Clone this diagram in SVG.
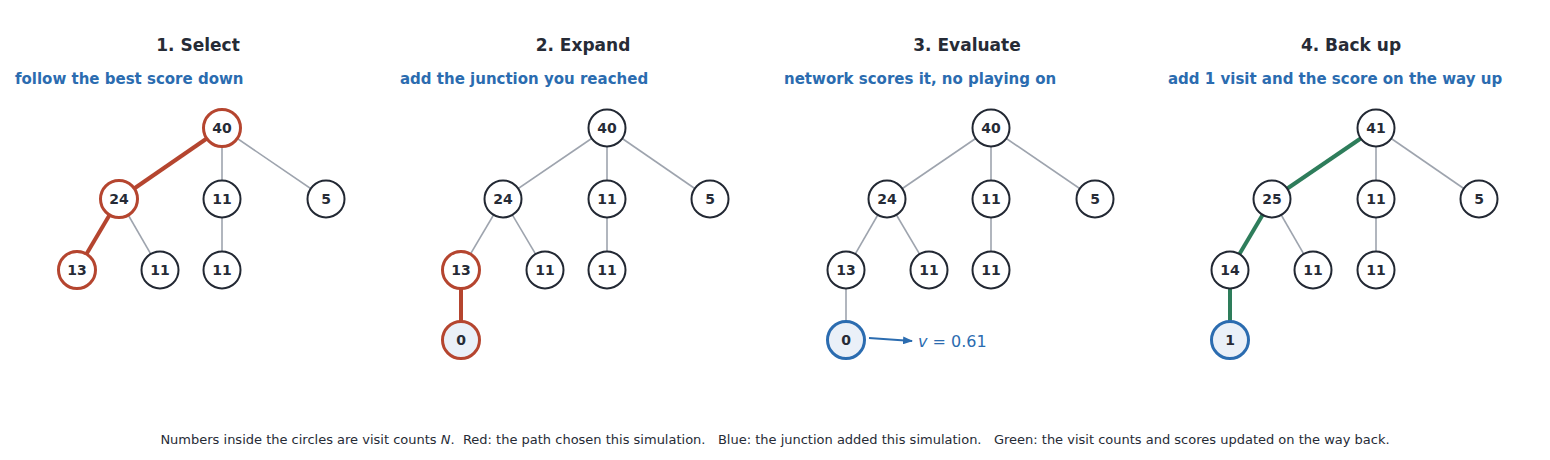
<svg xmlns="http://www.w3.org/2000/svg" width="1550" height="460" viewBox="0 0 1550 460">
<defs>
<marker id="ah" markerWidth="10" markerHeight="8" refX="9" refY="4" orient="auto" markerUnits="userSpaceOnUse"><path d="M0,0 L10,4 L0,8 z" fill="#2b6cb0"/></marker>
<style>
text{font-family:"DejaVu Sans","Liberation Sans",sans-serif}
.t{font-size:17px;font-weight:bold;fill:#262b36;text-anchor:middle}
.s{font-size:15px;font-weight:bold;fill:#2b6cb0}
.n circle{fill:#fff;stroke:#222833;stroke-width:2}
.n.r circle{stroke:#b5452f;stroke-width:3}
.n.b circle{fill:#eaf0f8;stroke:#2b6cb0;stroke-width:3}
.n.bb circle{fill:#eaf0f8;stroke:#b5452f;stroke-width:3}
.n.g circle{fill:#eaf0f8;stroke:#2b6cb0;stroke-width:3}
.n text{font-size:14px;font-weight:bold;fill:#262b36;text-anchor:middle;dominant-baseline:central}
.e{stroke:#9ea4ae;stroke-width:1.6}
.er{stroke:#b5452f;stroke-width:4}
.eg{stroke:#2e7d5b;stroke-width:4}
</style>
</defs>
<text class="t" x="198" y="51">1. Select</text>
<text class="s" x="15" y="84">follow the best score down</text>
<text class="t" x="583" y="51">2. Expand</text>
<text class="s" x="400" y="84">add the junction you reached</text>
<text class="t" x="967" y="51">3. Evaluate</text>
<text class="s" x="784" y="84">network scores it, no playing on</text>
<text class="t" x="1351" y="51">4. Back up</text>
<text class="s" x="1168" y="84">add 1 visit and the score on the way up</text>
<g id="connectors">
<line class="er" x1="222" y1="128" x2="119" y2="199"/><line class="e" x1="222" y1="128" x2="222" y2="199"/><line class="e" x1="222" y1="128" x2="326" y2="199"/>
<line class="er" x1="119" y1="199" x2="77" y2="270"/><line class="e" x1="119" y1="199" x2="160" y2="270"/><line class="e" x1="222" y1="199" x2="222" y2="270"/>
<line class="e" x1="607" y1="128" x2="503" y2="199"/><line class="e" x1="607" y1="128" x2="607" y2="199"/><line class="e" x1="607" y1="128" x2="710" y2="199"/>
<line class="e" x1="503" y1="199" x2="461" y2="270"/><line class="e" x1="503" y1="199" x2="545" y2="270"/><line class="e" x1="607" y1="199" x2="607" y2="270"/>
<line class="er" x1="461" y1="270" x2="461" y2="340"/>
<line class="e" x1="991" y1="128" x2="887" y2="199"/><line class="e" x1="991" y1="128" x2="991" y2="199"/><line class="e" x1="991" y1="128" x2="1095" y2="199"/>
<line class="e" x1="887" y1="199" x2="846" y2="270"/><line class="e" x1="887" y1="199" x2="929" y2="270"/><line class="e" x1="991" y1="199" x2="991" y2="270"/>
<line class="e" x1="846" y1="270" x2="846" y2="340"/>
<line x1="869" y1="338" x2="912" y2="341" stroke="#2b6cb0" stroke-width="2" marker-end="url(#ah)"/>
<line class="eg" x1="1376" y1="128" x2="1272" y2="199"/><line class="e" x1="1376" y1="128" x2="1376" y2="199"/><line class="e" x1="1376" y1="128" x2="1479" y2="199"/>
<line class="eg" x1="1272" y1="199" x2="1230" y2="270"/><line class="e" x1="1272" y1="199" x2="1313" y2="270"/><line class="e" x1="1376" y1="199" x2="1376" y2="270"/>
<line class="eg" x1="1230" y1="270" x2="1230" y2="340"/>
</g>
<g id="p1-root" class="n r"><circle cx="222" cy="128" r="18.5"/><text x="222" y="128">40</text></g>
<g id="p1-a" class="n r"><circle cx="119" cy="199" r="18.5"/><text x="119" y="199">24</text></g>
<g id="p1-b" class="n"><circle cx="222" cy="199" r="18.5"/><text x="222" y="199">11</text></g>
<g id="p1-c" class="n"><circle cx="326" cy="199" r="18.5"/><text x="326" y="199">5</text></g>
<g id="p1-aa" class="n r"><circle cx="77" cy="270" r="18.5"/><text x="77" y="270">13</text></g>
<g id="p1-ab" class="n"><circle cx="160" cy="270" r="18.5"/><text x="160" y="270">11</text></g>
<g id="p1-ba" class="n"><circle cx="222" cy="270" r="18.5"/><text x="222" y="270">11</text></g>
<g id="p2-root" class="n"><circle cx="607" cy="128" r="18.5"/><text x="607" y="128">40</text></g>
<g id="p2-a" class="n"><circle cx="503" cy="199" r="18.5"/><text x="503" y="199">24</text></g>
<g id="p2-b" class="n"><circle cx="607" cy="199" r="18.5"/><text x="607" y="199">11</text></g>
<g id="p2-c" class="n"><circle cx="710" cy="199" r="18.5"/><text x="710" y="199">5</text></g>
<g id="p2-aa" class="n r"><circle cx="461" cy="270" r="18.5"/><text x="461" y="270">13</text></g>
<g id="p2-ab" class="n"><circle cx="545" cy="270" r="18.5"/><text x="545" y="270">11</text></g>
<g id="p2-ba" class="n"><circle cx="607" cy="270" r="18.5"/><text x="607" y="270">11</text></g>
<g id="p2-new" class="n bb"><circle cx="461" cy="340" r="18.5"/><text x="461" y="340">0</text></g>
<g id="p3-root" class="n"><circle cx="991" cy="128" r="18.5"/><text x="991" y="128">40</text></g>
<g id="p3-a" class="n"><circle cx="887" cy="199" r="18.5"/><text x="887" y="199">24</text></g>
<g id="p3-b" class="n"><circle cx="991" cy="199" r="18.5"/><text x="991" y="199">11</text></g>
<g id="p3-c" class="n"><circle cx="1095" cy="199" r="18.5"/><text x="1095" y="199">5</text></g>
<g id="p3-aa" class="n"><circle cx="846" cy="270" r="18.5"/><text x="846" y="270">13</text></g>
<g id="p3-ab" class="n"><circle cx="929" cy="270" r="18.5"/><text x="929" y="270">11</text></g>
<g id="p3-ba" class="n"><circle cx="991" cy="270" r="18.5"/><text x="991" y="270">11</text></g>
<g id="p3-new" class="n b"><circle cx="846" cy="340" r="18.5"/><text x="846" y="340">0</text></g>
<text x="918" y="347" font-size="16" fill="#2b6cb0"><tspan font-style="italic">v</tspan> = 0.61</text>
<g id="p4-root" class="n"><circle cx="1376" cy="128" r="18.5"/><text x="1376" y="128">41</text></g>
<g id="p4-a" class="n"><circle cx="1272" cy="199" r="18.5"/><text x="1272" y="199">25</text></g>
<g id="p4-b" class="n"><circle cx="1376" cy="199" r="18.5"/><text x="1376" y="199">11</text></g>
<g id="p4-c" class="n"><circle cx="1479" cy="199" r="18.5"/><text x="1479" y="199">5</text></g>
<g id="p4-aa" class="n"><circle cx="1230" cy="270" r="18.5"/><text x="1230" y="270">14</text></g>
<g id="p4-ab" class="n"><circle cx="1313" cy="270" r="18.5"/><text x="1313" y="270">11</text></g>
<g id="p4-ba" class="n"><circle cx="1376" cy="270" r="18.5"/><text x="1376" y="270">11</text></g>
<g id="p4-new" class="n g"><circle cx="1230" cy="340" r="18.5"/><text x="1230" y="340">1</text></g>
<text x="775" y="444" font-size="13" fill="#262b36" text-anchor="middle" xml:space="preserve">Numbers inside the circles are visit counts <tspan font-style="italic">N</tspan>.  Red: the path chosen this simulation.   Blue: the junction added this simulation.   Green: the visit counts and scores updated on the way back.</text>
</svg>
